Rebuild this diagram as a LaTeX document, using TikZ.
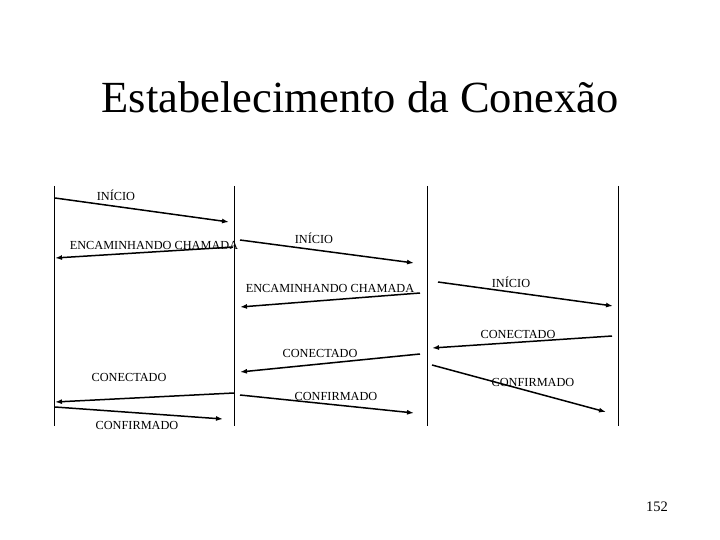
\documentclass[tikz,border=0pt]{standalone}
\usepackage{fontspec}
\setmainfont{Liberation Serif}
\usetikzlibrary{arrows.meta}
\begin{document}
\begin{tikzpicture}[x=1pt,y=-1pt,
  lifeline/.style={line width=0.9pt},
  msg/.style={line width=1.5pt,-{Latex[length=7pt,width=5pt]}},
  lbl/.style={font=\fontsize{12.3}{14}\selectfont,inner sep=0pt}]
\useasboundingbox (0,0) rectangle (720,540);
\node[font=\fontsize{44.5}{50}\selectfont,inner sep=0pt] (title) at (360,97) {Estabelecimento da Conexão};
\node[font=\fontsize{14.5}{16}\selectfont,inner sep=0pt] (page) at (657,507) {152};
% lifelines
\foreach \n/\x in {A/54,B/234,C/427,D/618}{
  \coordinate (\n top) at (\x,186);
  \coordinate (\n bot) at (\x,426);
  \draw[lifeline] (\n top) -- (\n bot);
}
% endpoints
\coordinate (m1s) at (55,198);  \coordinate (m1e) at (229,222);
\coordinate (m2s) at (233,247); \coordinate (m2e) at (55,258);
\coordinate (m3s) at (240,240); \coordinate (m3e) at (414,263);
\coordinate (m4s) at (420,293); \coordinate (m4e) at (240,307);
\coordinate (m5s) at (438,282); \coordinate (m5e) at (613,306);
\coordinate (m6s) at (612,336); \coordinate (m6e) at (432,348);
\coordinate (m7s) at (420,354); \coordinate (m7e) at (240,372);
\coordinate (m8s) at (234,393); \coordinate (m8e) at (55,402);
\coordinate (m9s) at (55,407);  \coordinate (m9e) at (223,419);
\coordinate (m10s) at (240,395); \coordinate (m10e) at (414,413);
\coordinate (m11s) at (432,365); \coordinate (m11e) at (606,412);
\foreach \i in {1,...,11}{ \draw[msg] (m\i s) -- (m\i e); }
% labels
\node[lbl] (l1) at (116,195) {INÍCIO};
\node[lbl] (l2) at (154,245) {ENCAMINHANDO CHAMADA};
\node[lbl] (l3) at (314,238) {INÍCIO};
\node[lbl] (l4) at (330,288) {ENCAMINHANDO CHAMADA};
\node[lbl] (l5) at (511,282) {INÍCIO};
\node[lbl] (l6) at (518,334) {CONECTADO};
\node[lbl] (l7) at (320,353) {CONECTADO};
\node[lbl] (l8) at (129,377) {CONECTADO};
\node[lbl] (l9) at (137,425) {CONFIRMADO};
\node[lbl] (l10) at (336,396) {CONFIRMADO};
\node[lbl] (l11) at (533,382) {CONFIRMADO};
\end{tikzpicture}
\end{document}
